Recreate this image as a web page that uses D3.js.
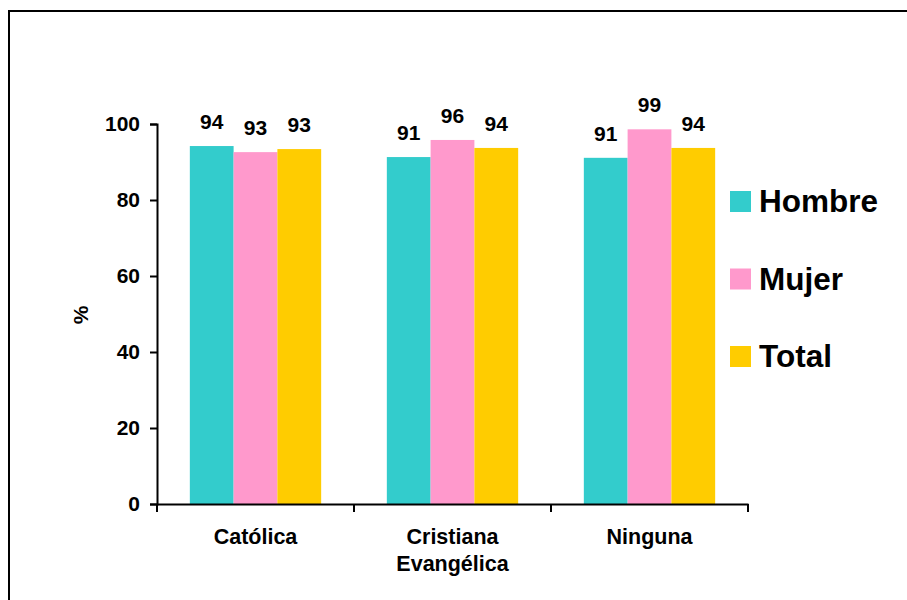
<!DOCTYPE html>
<html>
<head>
<meta charset="utf-8">
<script src="https://cdn.jsdelivr.net/npm/d3@7"></script>
<style>
  body { margin: 0; background: #fff; }
  text { font-family: "Liberation Sans", Arial, sans-serif; font-weight: bold; fill: #000; }
</style>
</head>
<body>
<div id="chart"></div>
<script>
// datos
const categorias = ["Católica", "Cristiana Evangélica", "Ninguna"]
const series = ["Hombre", "Mujer", "Total"]
const hombre = [94.2, 91.3, 91.1]
const mujer = [92.6, 95.8, 98.6]
const total = [93.4, 93.7, 93.7]
const yTicks = [0, 20, 40, 60, 80, 100]
const colores = ["#33CCCC", "#FF99CC", "#FFCC00"]

const width = 907
const height = 600
const margin = { top: 124, right: 159, bottom: 96, left: 157 }

const svg = d3.select("div#chart").append("svg").attr("width", width).attr("height", height)

// marco
svg.append("rect")
    .attr("x", 9).attr("y", 11)
    .attr("width", 1000).attr("height", 1000)
    .attr("fill", "none").attr("stroke", "#000").attr("stroke-width", 2)

const filas = categorias.map((c, i) => ({ cat: c, vals: [hombre[i], mujer[i], total[i]] }))

// escalas
const x0 = d3.scaleBand().domain(categorias).range([margin.left, width - margin.right])
const x1 = d3.scaleBand().domain(series).range([0, x0.bandwidth()]).paddingOuter(0.75)
const y = d3.scaleLinear().domain([0, 100]).range([height - margin.bottom, margin.top])
const color = d3.scaleOrdinal().domain(series).range(colores)

// barras
const grupos = svg.append("g").selectAll("g").data(filas).join("g")
    .attr("transform", d => `translate(${x0(d.cat)},0)`)

grupos.selectAll("rect")
    .data(d => d.vals.map((v, j) => ({ s: series[j], v: v })))
    .join("rect")
    .attr("x", d => x1(d.s))
    .attr("y", d => y(d.v))
    .attr("width", x1.bandwidth())
    .attr("height", d => y(0) - y(d.v))
    .attr("fill", d => color(d.s))

grupos.selectAll("text.valor")
    .data(d => d.vals.map((v, j) => ({ s: series[j], v: v })))
    .join("text")
    .attr("class", "valor")
    .attr("x", d => x1(d.s) + x1.bandwidth() / 2)
    .attr("y", d => y(d.v) - 17)
    .attr("text-anchor", "middle")
    .style("font-size", "21px")
    .text(d => d3.format(".0f")(d.v))

// ejes
const yAxis = d3.axisLeft(y).tickValues(yTicks).tickSize(7).tickPadding(10)
const yG = svg.append("g").attr("transform", `translate(${margin.left},0)`).call(yAxis)
yG.selectAll("text").style("font-size", "21px")

const xAxis = d3.axisBottom(x0).tickValues([]).tickSizeOuter(0)
const xG = svg.append("g").attr("transform", `translate(0,${y(0)})`).call(xAxis)
xG.selectAll(".tick").remove()
// marcas entre categorias
const bordes = categorias.map(c => x0(c)).concat([x0.range()[1]])
xG.selectAll("line.borde").data(bordes).join("line")
    .attr("class", "borde")
    .attr("x1", d => d).attr("x2", d => d)
    .attr("y1", 0).attr("y2", 8)
    .attr("stroke", "#000").attr("stroke-width", 2)

svg.selectAll(".domain").attr("stroke", "#000").attr("stroke-width", 2)
yG.selectAll(".tick line").attr("stroke-width", 2)

// etiquetas categoria
const etiquetas = svg.append("g").selectAll("text").data(categorias).join("text")
    .attr("x", d => x0(d) + x0.bandwidth() / 2)
    .attr("y", y(0) + 40)
    .attr("text-anchor", "middle")
    .style("font-size", "21.5px")
etiquetas.each(function (d) {
    const partes = d.split(" ")
    d3.select(this).selectAll("tspan").data(partes).join("tspan")
        .attr("x", x0(d) + x0.bandwidth() / 2)
        .attr("dy", (p, i) => i === 0 ? 0 : 27)
        .text(p => p)
})

// titulo eje y
svg.append("text")
    .attr("transform", `translate(88,315) rotate(-90)`)
    .attr("text-anchor", "middle")
    .style("font-size", "21px")
    .text("%")

// leyenda
const leyenda = svg.append("g").selectAll("g").data(series).join("g")
    .attr("transform", (d, i) => `translate(730,${191 + i * 77.5})`)
leyenda.append("rect").attr("width", 21).attr("height", 21).attr("fill", d => color(d))
leyenda.append("text").attr("x", 29).attr("y", 21).style("font-size", "31.5px").text(d => d)
</script>
</body>
</html>
